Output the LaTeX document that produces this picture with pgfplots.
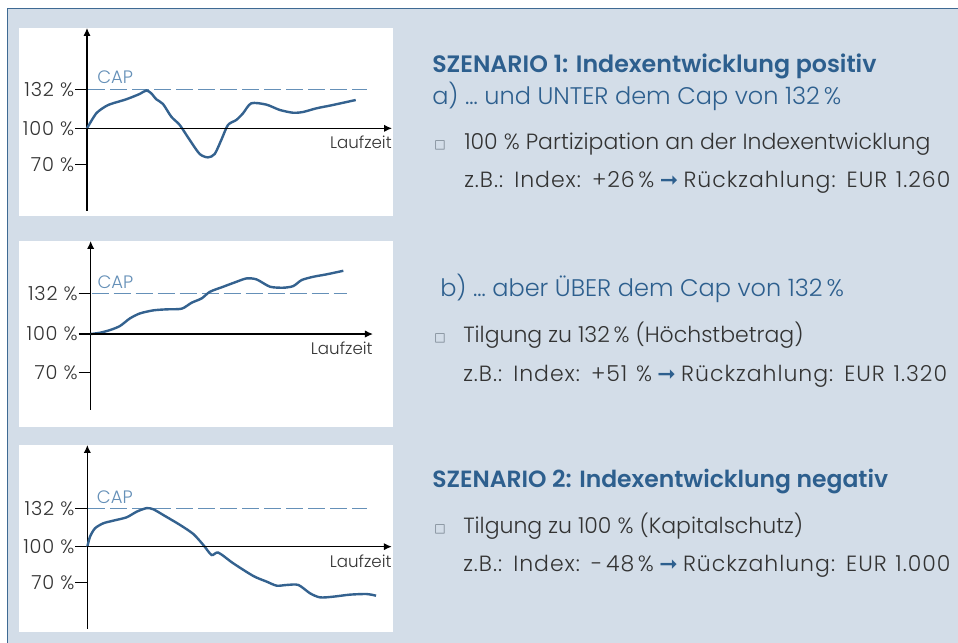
\documentclass[border=0pt]{standalone}
\usepackage{fontspec}
\setmainfont{Poppins}[UprightFont={* Light},BoldFont={* SemiBold},Numbers=Monospaced]
\newfontfamily\widefont{Poppins}[UprightFont={* Light},Numbers=Monospaced,LetterSpace=4.5,WordSpace=1.25]
\newfontfamily\tickfont{Poppins}[UprightFont={* Light},Numbers=Monospaced,LetterSpace=4]
\newfontfamily\symfont{DejaVu Sans}
\usepackage{pgfplots}
\pgfplotsset{compat=1.18}
\usetikzlibrary{arrows.meta}
\definecolor{bgc}{HTML}{D3DDE8}
\definecolor{framec}{HTML}{3F6A93}
\definecolor{headc}{HTML}{2D5F8E}
\definecolor{curvec}{HTML}{34628F}
\definecolor{capc}{HTML}{6590B8}
\definecolor{txtc}{HTML}{333333}
\definecolor{bulc}{HTML}{6E7A86}
\newcommand{\arr}{\hspace{4pt}{\color{headc}\symfont ➞}\hspace{4pt}}
\pgfplotsset{
  mini/.style={
    scale only axis, clip=false,
    axis x line=none, axis y line=left,
    xmin=0, xtick=\empty,
    ytick={70,100,132}, yticklabels={70\ \%,100\ \%,132\ \%},
    tick align=outside, major tick length=9pt,
    y axis line style={line width=0.9pt, black, -{Latex[length=6pt,width=5.5pt]}},
    ytick style={line width=0.9pt, black},
    yticklabel style={font=\tickfont\fontsize{14.5}{16}\selectfont, text=txtc, inner sep=0.5pt},
  },
  capline/.style={capc, line width=1.1pt, dash pattern=on 12.75pt off 3.75pt},
  curve/.style={curvec, line width=1.8pt, smooth, tension=0.45},
}
\begin{document}
\begin{tikzpicture}[x=0.75pt,y=0.75pt]
\clip (0,0) rectangle (958,643);
\fill[white] (0,0) rectangle (958,643);
\fill[bgc] (7,0) rectangle (958,635);
\draw[framec, line width=1.3pt] (7.5,-5) -- (7.5,634.5) -- (970,634.5);
\fill[white] (19,427) rectangle (393,615);
\fill[white] (19,216) rectangle (393,402);
\fill[white] (19,11) rectangle (393,198);

% chart 1
\begin{axis}[mini, at={(65.25pt,324pt)}, anchor=south west,
  width=228.75pt, height=137.25pt, xmax=305, ymin=31.7, ymax=182.9]
\addplot[capline] coordinates {(1,132) (280,132)};
\addplot[curve] coordinates {(0,100) (9.3,112.4) (19.3,118.5) (26,120.7) (39.3,124) (52.7,128.4) (59.3,131.3) (64.3,128.9) (69.3,124) (76,120.1) (84.3,109.6) (92.7,102.8) (102.7,90.4) (112.7,78.8) (121,76) (127.7,78.8) (134.3,90.4) (141,102.8) (149.3,106.9) (156,112.4) (164.3,120.7) (179.3,119.6) (192.7,115.2) (206,112.9) (216,113.5) (229.3,116.5) (246,119.3) (268.7,123.4)};
\draw[line width=0.9pt, -{Latex[length=6pt,width=5.5pt]}] (axis cs:0,100) -- (axis cs:305,100);
\node[capc, anchor=base west, inner sep=0, font=\fontsize{13.5}{16}\selectfont] at (axis cs:10,137.2) {CAP};
\node[txtc, anchor=base east, inner sep=0, font=\fontsize{12.5}{15}\selectfont, yshift=-15.4pt] at (axis cs:305,100) {Laufzeit};
\end{axis}

% chart 2
\begin{axis}[mini, at={(68pt,174.75pt)}, anchor=south west,
  width=211.7pt, height=126.75pt, xmax=282.3, ymin=40.3, ymax=173.1]
\addplot[capline] coordinates {(1,132) (256.3,132)};
\addplot[curve] coordinates {(0,100) (9.3,101) (19.3,103.1) (29.3,106.3) (39.3,112.3) (49.3,116.2) (62.7,118.6) (76,119.4) (91,119.9) (101,124.6) (111,128) (119.3,133.2) (132.7,137.2) (146,141.1) (156,143.7) (166,142.9) (179.3,137.2) (192.7,136.4) (202.7,137.7) (211,142.4) (222.7,145) (236,146.9) (252.7,149.7)};
\draw[line width=0.9pt, -{Latex[length=6pt,width=5.5pt]}] (axis cs:0,100) -- (axis cs:282.3,100);
\node[capc, anchor=base west, inner sep=0, font=\fontsize{13.5}{16}\selectfont] at (axis cs:6.6,136) {CAP};
\node[txtc, anchor=base east, inner sep=0, font=\fontsize{12.5}{15}\selectfont, yshift=-15.4pt] at (axis cs:282.3,100) {Laufzeit};
\end{axis}

% chart 3
\begin{axis}[mini, at={(65.5pt,10.5pt)}, anchor=south west,
  width=228.3pt, height=138pt, xmax=304.4, ymin=31.0, ymax=185.2]
\addplot[capline] coordinates {(1,132) (279.4,132)};
\addplot[curve] coordinates {(0,100) (2.7,108.4) (7.7,115.4) (16,119.6) (26,121.8) (39.3,124.6) (49.3,129.3) (59.3,132.3) (66,131.3) (76,126.5) (92.7,118.2) (106,110.6) (116,101.4) (124.3,93) (131,95) (146,86) (166,75.4) (179.3,70.7) (189.3,67.3) (199.3,67.9) (211,67.9) (222.7,60.9) (232.7,57.5) (246,58.1) (262.7,59.8) (279.3,60.3) (288.7,58.9)};
\draw[line width=0.9pt, -{Latex[length=6pt,width=5.5pt]}] (axis cs:0,100) -- (axis cs:304.4,100);
\node[capc, anchor=base west, inner sep=0, font=\fontsize{13.5}{16}\selectfont] at (axis cs:9.3,136.5) {CAP};
\node[txtc, anchor=base east, inner sep=0, font=\fontsize{12.5}{15}\selectfont, yshift=-15.4pt] at (axis cs:304.4,100) {Laufzeit};
\end{axis}

% text
\begin{scope}[every node/.style={anchor=base west, inner sep=0}]
\node[headc, font=\fontsize{17.8}{20}\selectfont\bfseries] at (432,570.7) {SZENARIO 1: Indexentwicklung positiv};
\node[headc, font=\fontsize{18}{20}\selectfont] at (432,538) {a) \dots\ und UNTER dem Cap von 132\,\%};
\node[bulc, font=\fontsize{9}{10}\symfont] at (434,494) {□};
\node[txtc, font=\fontsize{16.5}{20}\selectfont] at (464,493) {100 \% Partizipation an der Indexentwicklung};
\node[txtc, font=\widefont\fontsize{16.5}{20}\selectfont] at (464,455) {z.B.: Index: +26\,\%\arr Rückzahlung: EUR 1.260};

\node[headc, font=\fontsize{18}{20}\selectfont] at (440,346.3) {b) \dots\ aber ÜBER dem Cap von 132\,\%};
\node[bulc, font=\fontsize{9}{10}\symfont] at (434,301) {□};
\node[txtc, font=\fontsize{16.5}{20}\selectfont] at (463,300) {Tilgung zu 132\,\% (Höchstbetrag)};
\node[txtc, font=\widefont\fontsize{16.5}{20}\selectfont] at (463,261.3) {z.B.: Index: +51 \%\arr Rückzahlung: EUR 1.320};

\node[headc, font=\fontsize{17.6}{20}\selectfont\bfseries] at (432,155.7) {SZENARIO 2: Indexentwicklung negativ};
\node[bulc, font=\fontsize{9}{10}\symfont] at (434,110.7) {□};
\node[txtc, font=\fontsize{16.5}{20}\selectfont] at (463,109.7) {Tilgung zu 100 \% (Kapitalschutz)};
\node[txtc, font=\widefont\fontsize{16.5}{20}\selectfont] at (463,71.3) {z.B.: Index: -\,48\,\%\arr Rückzahlung: EUR 1.000};
\end{scope}
\end{tikzpicture}
\end{document}
